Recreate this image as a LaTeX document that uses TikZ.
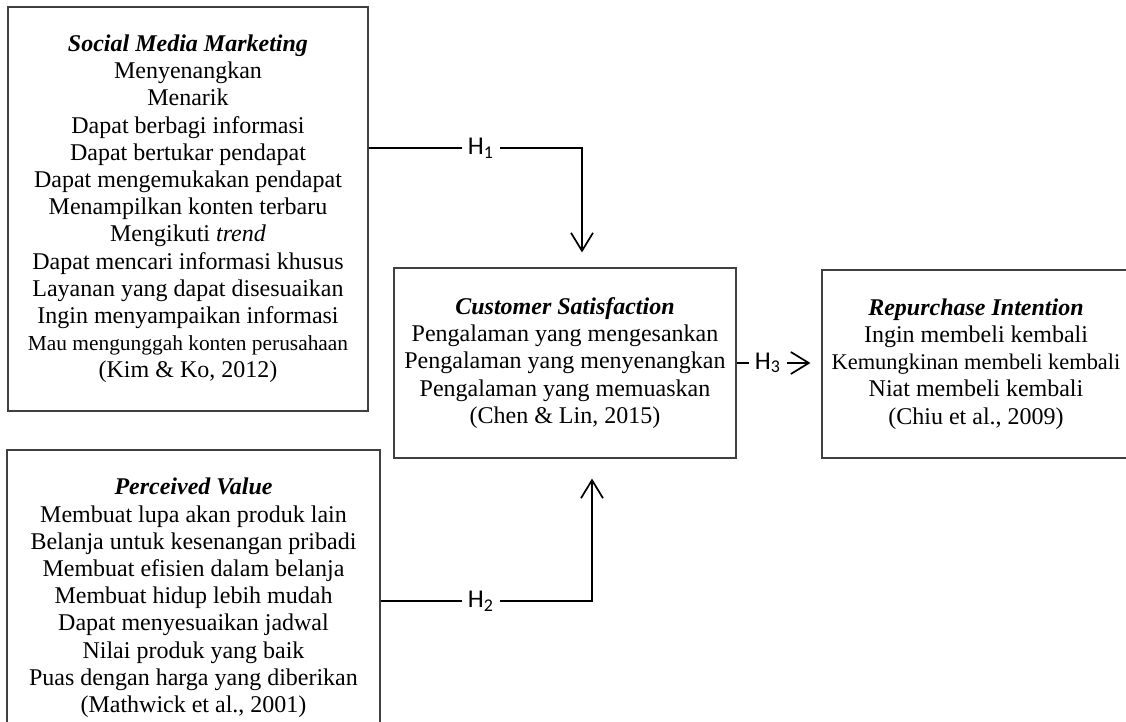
\documentclass[tikz,border=0pt]{standalone}
\usepackage{fontspec}
\setmainfont{Liberation Serif}
\newfontfamily\hfont{Carlito}
\usetikzlibrary{arrows, arrows.meta}
\usetikzlibrary{positioning}
\usetikzlibrary{calc}

\tikzset{
	varbox/.style={draw=black!75, line width=0.55pt, align=center, inner sep=0pt, font=\fontsize{12}{13.6}\selectfont},
	hyp/.style={line width=0.85pt},
	hyparrow/.style={hyp, -{Straight Barb[length=9pt,width=11pt]}},
	hlabel/.style={font=\hfont\fontsize{12.8}{14}\selectfont, inner ysep=1pt, inner xsep=3pt}
}
\newcommand{\vartitle}[1]{\textbf{\textit{#1}}}

\begin{document}
\begin{tikzpicture}[x=0.5pt,y=-0.5pt]
					\useasboundingbox (0,0) rectangle (1126,722);
					\clip (0,0) rectangle (1126,722);
					% draw variable boxes
					\node[varbox, minimum width=180pt, minimum height=202pt] (smm) at (188,209) {\vartitle{Social Media Marketing}\\ Menyenangkan\\ Menarik\\ Dapat berbagi informasi\\ Dapat bertukar pendapat\\ Dapat mengemukakan pendapat\\ Menampilkan konten terbaru\\ Mengikuti \textit{trend}\\ Dapat mencari informasi khusus\\ Layanan yang dapat disesuaikan\\ Ingin menyampaikan informasi\\ {\fontsize{10.7}{13.6}\selectfont Mau mengunggah konten perusahaan}\\ (Kim \& Ko, 2012)};
					\node[varbox, minimum width=186.5pt, minimum height=148pt] (pv) at (193.5,598) {\vartitle{Perceived Value}\\ Membuat lupa akan produk lain\\ Belanja untuk kesenangan pribadi\\ Membuat efisien dalam belanja\\ Membuat hidup lebih mudah\\ Dapat menyesuaikan jadwal\\ Nilai produk yang baik\\ Puas dengan harga yang diberikan\\ (Mathwick et al., 2001)};
					\node[varbox, minimum width=171pt, minimum height=95pt] (cs) at (565,363) {\vartitle{Customer Satisfaction}\\ Pengalaman yang mengesankan\\ Pengalaman yang menyenangkan\\ Pengalaman yang memuaskan\\ (Chen \& Lin, 2015)};
					\node[varbox, minimum width=154pt, minimum height=94pt] (ri) at (976,364) {\vartitle{Repurchase Intention}\\ Ingin membeli kembali\\ {\fontsize{11.2}{13.6}\selectfont Kemungkinan membeli kembali}\\ Niat membeli kembali\\ (Chiu et al., 2009)};
					
					% draw hypotheses
					\node[hlabel] (h1) at (481,148) {H\textsubscript{1}};
					\node[hlabel] (h2) at (481,601) {H\textsubscript{2}};
					\node[hlabel] (h3) at (768,363) {H\textsubscript{3}};
					\coordinate (h1turn) at (582,148);
					\coordinate (h2turn) at (592,601);
					
					\draw[hyp] (smm.east |- h1) -- (h1.west);
					\draw[hyparrow] (h1.east) -- (h1turn) -- ($(h1turn |- cs.north)+(0,-15)$);
					\draw[hyp] (pv.east |- h2) -- (h2.west);
					\draw[hyparrow] (h2.east) -- (h2turn) -- ($(h2turn |- cs.south)+(0,20)$);
					\draw[hyp] (cs.east |- h3) -- (h3.west);
					\draw[hyparrow] (h3.east) -- ($(ri.west |- h3)+(-11,0)$);
				\end{tikzpicture}
\end{document}
